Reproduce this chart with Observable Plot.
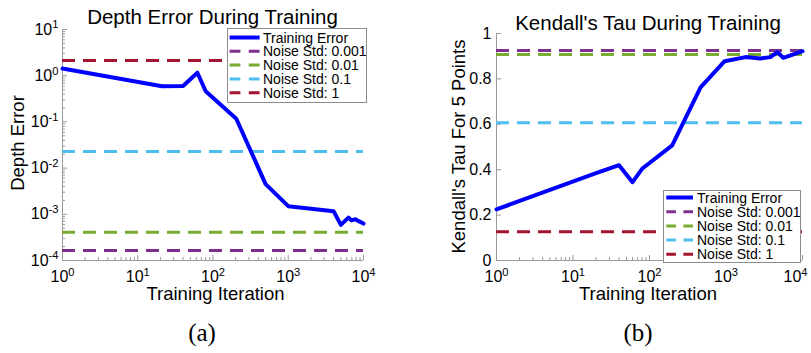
<!DOCTYPE html>
<html><head><meta charset="utf-8">
<script src="https://cdn.jsdelivr.net/npm/d3@7"></script>
<script src="https://cdn.jsdelivr.net/npm/@observablehq/plot@0.6"></script>
<style>
html,body{margin:0;padding:0;background:#fff;}
#wrap{position:relative;width:811px;height:353px;overflow:hidden;font-family:"Liberation Sans",Arial,sans-serif;}
#wrap > *{position:absolute;top:0;}
</style></head><body><div id="wrap"></div>
<script>
// ---------- data ----------
const depthIter = [1, 21, 40, 62, 80, 204, 500, 1000, 4000, 5000, 6300, 6900, 7800, 8500, 10000];
const depthErr  = [1.43, 0.59, 0.6, 1.16, 0.46, 0.117, 0.0045, 0.0015, 0.00117, 0.00059, 0.00085, 0.00074, 0.00078, 0.00072, 0.00063];
const tauIter = [1, 20, 40, 60, 80, 198, 465, 960, 1800, 2800, 3800, 4700, 5600, 7300, 10000];
const tauVal  = [0.225, 0.385, 0.42, 0.345, 0.404, 0.507, 0.763, 0.878, 0.896, 0.89, 0.896, 0.918, 0.893, 0.906, 0.922];
const seriesLabel = "Training Error";
const noiseLabels = ["Noise Std: 0.001", "Noise Std: 0.01", "Noise Std: 0.1", "Noise Std: 1"];
const depthNoise = [0.000165, 0.00041, 0.023, 2.13];
const tauNoise   = [0.925, 0.907, 0.607, 0.127];
const xTicks = [1, 10, 100, 1000, 10000];
const depthYTicks = [1e-4, 1e-3, 1e-2, 1e-1, 1, 10];
const tauYTicks = [0, 0.2, 0.4, 0.6, 0.8, 1];
const titles = ["Depth Error During Training", "Kendall's Tau During Training"];
const yLabels = ["Depth Error", "Kendall's Tau For 5 Points"];
const xLabel = "Training Iteration";
const captions = ["(a)", "(b)"];

// ---------- styles ----------
const GRAY = "#9a9a9a";
const BLUE = "#0000ff";
const noiseColors = ["#7e2f8e", "#77ac30", "#4dbeee", "#a2142f"];
const FONT = "Liberation Sans, Arial, sans-serif";

function minorLog(lo, hi) { const out = []; for (let d = lo; d < hi * 0.99; d *= 10) for (let k = 2; k < 10; k++) out.push(d * k); return out; }
const logFmt = d => "10^" + Math.round(Math.log10(d));
const linFmt = d => String(d);

// turn "10^k" tick texts into 10 with a superscript; optionally nudge the last x label inward
function supify(svg, lastShift = 0) {
  d3.select(svg).selectAll("text").each(function () {
    const m = /^10\^(-?\d+)$/.exec(this.textContent);
    if (!m) return;
    const s = d3.select(this);
    s.text("10");
    s.append("tspan").attr("dy", "-0.55em").attr("font-size", "0.7em").text(m[1]);
    if (lastShift && m[1] === "4") s.attr("dx", lastShift);
  });
}

const wrap = document.getElementById("wrap");

// ---------- left chart ----------
const L = {w: 405, h: 353, mt: 29, ml: 62, mr: 42, mb: 93};
const Lpw = L.w - L.ml - L.mr, Lph = L.h - L.mt - L.mb;
const depthRows = depthIter.map((x, i) => ({x, y: depthErr[i]}));
const left = Plot.plot({
  width: L.w, height: L.h, marginTop: L.mt, marginLeft: L.ml, marginRight: L.mr, marginBottom: L.mb,
  style: {fontFamily: FONT, fontSize: "16px", color: "#000", background: "transparent", overflow: "visible"},
  x: {type: "log", domain: [1, 1e4], label: null},
  y: {type: "log", domain: [1e-4, 10], label: null},
  marks: [
    Plot.ruleX([1], {stroke: GRAY}),
    Plot.ruleY([1e-4], {stroke: GRAY}),
    Plot.tickX(minorLog(1, 1e4), {x: d => d, stroke: GRAY, insetTop: Lph - 3}),
    Plot.tickX(xTicks, {x: d => d, stroke: GRAY, insetTop: Lph - 5}),
    Plot.tickY(minorLog(1e-4, 10), {y: d => d, stroke: GRAY, insetRight: Lpw - 3}),
    Plot.tickY(depthYTicks, {y: d => d, stroke: GRAY, insetRight: Lpw - 5}),
    Plot.axisX(xTicks, {tickSize: 0, tickPadding: 10, tickFormat: logFmt, label: null}),
    Plot.axisY(depthYTicks, {tickSize: 0, tickPadding: 4, tickFormat: logFmt, label: null}),
    ...depthNoise.map((v, i) => Plot.ruleY([v], {stroke: noiseColors[i], strokeWidth: 3, strokeDasharray: "13,8"})),
    Plot.line(depthRows, {x: "x", y: "y", stroke: BLUE, strokeWidth: 4, strokeLinejoin: "round"})
  ]
});
supify(left);
left.style.left = "0px";
wrap.appendChild(left);

// ---------- right chart ----------
const R = {w: 406, h: 353, mt: 33, ml: 91, mr: 9, mb: 93};
const Rpw = R.w - R.ml - R.mr, Rph = R.h - R.mt - R.mb;
const tauRows = tauIter.map((x, i) => ({x, y: tauVal[i]}));
const right = Plot.plot({
  width: R.w, height: R.h, marginTop: R.mt, marginLeft: R.ml, marginRight: R.mr, marginBottom: R.mb,
  style: {fontFamily: FONT, fontSize: "16px", color: "#000", background: "transparent", overflow: "visible"},
  x: {type: "log", domain: [1, 1e4], label: null},
  y: {type: "linear", domain: [0, 1], label: null},
  marks: [
    Plot.ruleX([1], {stroke: GRAY}),
    Plot.ruleY([0], {stroke: GRAY}),
    Plot.tickX(minorLog(1, 1e4), {x: d => d, stroke: GRAY, insetTop: Rph - 3}),
    Plot.tickX(xTicks, {x: d => d, stroke: GRAY, insetTop: Rph - 5}),
    Plot.tickY(tauYTicks, {y: d => d, stroke: GRAY, insetRight: Rpw - 5}),
    Plot.axisX(xTicks, {tickSize: 0, tickPadding: 10, tickFormat: logFmt, label: null}),
    Plot.axisY(tauYTicks, {tickSize: 0, tickPadding: 5, tickFormat: linFmt, label: null}),
    ...tauNoise.map((v, i) => Plot.ruleY([v], {stroke: noiseColors[i], strokeWidth: 3, strokeDasharray: "13,8"})),
    Plot.line(tauRows, {x: "x", y: "y", stroke: BLUE, strokeWidth: 4, strokeLinejoin: "round"})
  ]
});
supify(right, -7);
right.style.left = "405px";
wrap.appendChild(right);

// ---------- overlay: titles, axis titles, captions, legends ----------
const ov = d3.select(wrap).append("svg")
  .attr("width", 811).attr("height", 353)
  .style("left", "0px").style("font-family", FONT);

function txt(x, y, s, size, opts = {}) {
  const t = ov.append("text").attr("x", x).attr("y", y).attr("text-anchor", "middle")
    .attr("font-size", size).attr("fill", "#000").text(s);
  if (opts.rotate) t.attr("transform", `rotate(-90 ${x} ${y})`);
  if (opts.family) t.attr("font-family", opts.family);
  return t;
}
txt(212.5, 23.5, titles[0], 20.5);
txt(648, 30, titles[1], 20.5);
txt(24, 143, yLabels[0], 18.5, {rotate: true});
txt(465, 146.5, yLabels[1], 18.5, {rotate: true});
txt(215.5, 300, xLabel, 18.5);
txt(648, 300, xLabel, 18.5);
txt(202, 341, captions[0], 25, {family: "Liberation Serif, Times New Roman, serif"});
txt(638, 341, captions[1], 25, {family: "Liberation Serif, Times New Roman, serif"});

function legend(x, y, w, h, row0, dy, s0, s1, tx) {
  const g = ov.append("g").attr("transform", `translate(${x},${y})`);
  g.append("rect").attr("x", 0.5).attr("y", 0.5).attr("width", w).attr("height", h)
    .attr("fill", "#fff").attr("stroke", "#8c8c8c");
  const entries = [{label: seriesLabel, color: BLUE, dash: false, sw: 4}]
    .concat(noiseLabels.map((l, i) => ({label: l, color: noiseColors[i], dash: true, sw: 3})));
  const len = s1 - s0;
  entries.forEach((e, i) => {
    const cy = row0 + i * dy;
    g.append("line").attr("x1", s0).attr("x2", s1).attr("y1", cy).attr("y2", cy)
      .attr("stroke", e.color).attr("stroke-width", e.sw)
      .attr("stroke-dasharray", e.dash ? `${len * 0.36},${len * 0.28}` : null);
    g.append("text").attr("x", tx).attr("y", cy).attr("dy", "0.36em")
      .attr("font-size", 14).attr("fill", "#000").text(e.label);
  });
}
legend(227, 28, 139, 74, 9.5, 13.8, 2.6, 32.6, 36);
legend(663, 190, 137, 72, 7.5, 14.2, 3.3, 30, 34);
</script>
</body></html>
